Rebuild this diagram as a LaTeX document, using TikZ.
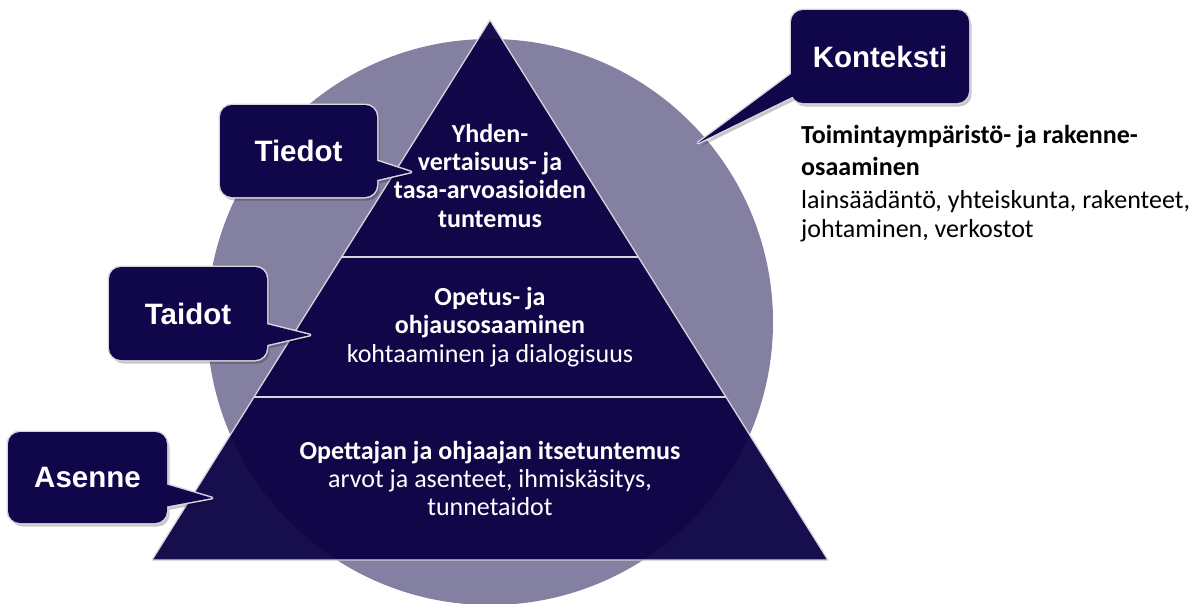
\documentclass[tikz,border=0pt]{standalone}
\usepackage{fontspec}
\setmainfont{Carlito}
\newfontfamily\calloutfont{Liberation Sans}
\usetikzlibrary{calc}
\definecolor{navy}{RGB}{10,0,68}
\definecolor{boxnavy}{RGB}{16,6,74}
\definecolor{lavender}{RGB}{132,128,162}
\definecolor{edgegray}{RGB}{214,214,222}
\newcommand\mycallout[2]{%
  \begin{scope}[transparency group, opacity=0.22, shift={(2.5,3.5)}]
    \fill[black, rounded corners=12pt] #1;
    \fill[black] #2;
  \end{scope}
  \draw[boxedge, rounded corners=12pt] #1;
  \draw[boxedge, line join=round] #2;
  \fill[boxface, rounded corners=12pt] #1;
  \fill[boxface] #2;
}
\begin{document}
\begin{tikzpicture}[x=1pt,y=-1pt,
  calltext/.style={text=white, font=\calloutfont\bfseries\fontsize{29.5}{34}\selectfont, inner sep=0pt},
  pyrtext/.style={text=white, font=\fontsize{26}{28}\selectfont, anchor=base, inner sep=0pt},
  sidetext/.style={text=black, font=\fontsize{26}{30}\selectfont, anchor=base west, inner sep=0pt},
  boxedge/.style={draw=edgegray, line width=3pt},
  boxface/.style={fill=boxnavy},
  pyredge/.style={draw=edgegray, line width=1.3pt},
]
\useasboundingbox (0,0) rectangle (1200,603);

% context circle
\fill[lavender] (490,322) circle[radius=283];

% pyramid
\coordinate (apex) at (490,20);
\coordinate (bl) at (152,560);
\coordinate (br) at (828,560);
\begin{scope}[opacity=0.2, shift={(3,4)}]
  \fill[black] (apex) -- (br) -- (bl) -- cycle;
\end{scope}
\fill[navy, fill opacity=0.925] (apex) -- (br) -- (bl) -- cycle;
\draw[pyredge, line join=round] (apex) -- (br) -- (bl) -- cycle;
\coordinate (d1l) at ($(apex)!0.4389!(bl)$);
\coordinate (d1r) at ($(apex)!0.4389!(br)$);
\coordinate (d2l) at ($(apex)!0.6981!(bl)$);
\coordinate (d2r) at ($(apex)!0.6981!(br)$);
\draw[pyredge] (d1l) -- (d1r);
\draw[pyredge] (d2l) -- (d2r);

% pyramid texts
\node[pyrtext, font=\bfseries\fontsize{26}{28}\selectfont] (t1) at (490,142) {Yhden-};
\node[pyrtext, font=\bfseries\fontsize{26}{28}\selectfont] (t2) at (490,170) {vertaisuus- ja};
\node[pyrtext, font=\bfseries\fontsize{26}{28}\selectfont] (t3) at (490,198) {tasa-arvoasioiden};
\node[pyrtext, font=\bfseries\fontsize{26}{28}\selectfont] (t4) at (490,227) {tuntemus};

\node[pyrtext, font=\bfseries\fontsize{26}{28}\selectfont] (m1) at (490,305) {Opetus- ja};
\node[pyrtext, font=\bfseries\fontsize{26}{28}\selectfont] (m2) at (490,333) {ohjausosaaminen};
\node[pyrtext] (m3) at (490,362) {kohtaaminen ja dialogisuus};

\node[pyrtext, font=\bfseries\fontsize{26}{28}\selectfont] (b1) at (490,459) {Opettajan ja ohjaajan itsetuntemus};
\node[pyrtext] (b2) at (490,487) {arvot ja asenteet, ihmiskäsitys,};
\node[pyrtext] (b3) at (490,515) {tunnetaidot};

% callouts
\mycallout{(791,10) rectangle (969,103)}{(802,66) -- (698,143) -- (802,92) -- cycle}
\node[calltext] (konteksti) at (880,56.5) {Konteksti};

\mycallout{(220,105) rectangle (377,197)}{(368,158) -- (411,172) -- (368,182) -- cycle}
\node[calltext] (tiedot) at (298.5,151) {Tiedot};

\mycallout{(109,267) rectangle (267,360)}{(258,322) -- (310,335) -- (258,347) -- cycle}
\node[calltext] (taidot) at (188,313.5) {Taidot};

\mycallout{(8,432) rectangle (167,523)}{(158,482) -- (212,498) -- (158,508) -- cycle}
\node[calltext] (asenne) at (87.5,477.5) {Asenne};

% side text
\node[sidetext, font=\bfseries\fontsize{26}{30}\selectfont] (s1) at (801,143) {Toimintaympäristö- ja rakenne-};
\node[sidetext, font=\bfseries\fontsize{26}{30}\selectfont] (s2) at (801,175) {osaaminen};
\node[sidetext] (s3) at (801,208) {lainsäädäntö, yhteiskunta, rakenteet,};
\node[sidetext] (s4) at (801,237) {johtaminen, verkostot};
\end{tikzpicture}
\end{document}
